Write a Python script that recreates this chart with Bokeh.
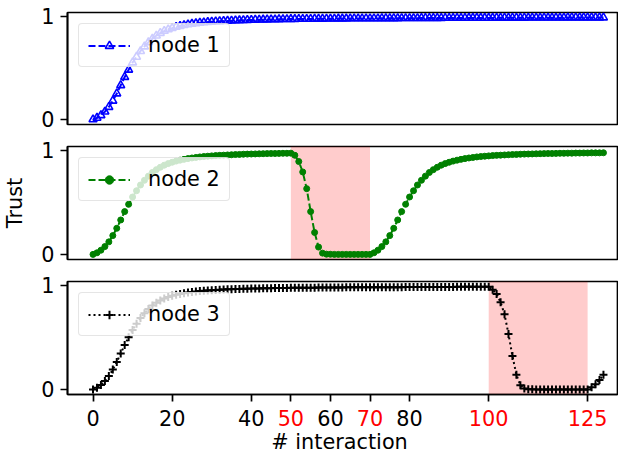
from bokeh.plotting import figure
from bokeh.layouts import column
from bokeh.models import Range1d, FixedTicker, BoxAnnotation, ColumnDataSource
from bokeh.core.properties import value
from bokeh.embed import file_html
from bokeh.resources import INLINE

# ---------------- data ----------------
interaction = list(range(130))

node1 = [0.000, 0.015, 0.040, 0.075, 0.120, 0.180, 0.250, 0.330, 0.410, 0.480,
         0.550, 0.605, 0.660, 0.705, 0.745, 0.780, 0.810, 0.835, 0.855, 0.870,
         0.883, 0.894, 0.903, 0.911, 0.918, 0.924, 0.929, 0.934, 0.938, 0.941,
         0.944, 0.947, 0.949, 0.951, 0.953, 0.955, 0.957, 0.958, 0.960, 0.961,
         0.962, 0.963, 0.964, 0.965, 0.966, 0.967, 0.967, 0.968, 0.969, 0.969,
         0.970, 0.970, 0.971, 0.971, 0.972, 0.972, 0.973, 0.973, 0.973, 0.974,
         0.974, 0.974, 0.975, 0.975, 0.975, 0.976, 0.976, 0.976, 0.976, 0.977,
         0.977, 0.977, 0.977, 0.978, 0.978, 0.978, 0.978, 0.978, 0.979, 0.979,
         0.979, 0.979, 0.979, 0.980, 0.980, 0.980, 0.980, 0.980, 0.980, 0.981,
         0.981, 0.981, 0.981, 0.981, 0.981, 0.982, 0.982, 0.982, 0.982, 0.982,
         0.982, 0.982, 0.983, 0.983, 0.983, 0.983, 0.983, 0.983, 0.983, 0.983,
         0.984, 0.984, 0.984, 0.984, 0.984, 0.984, 0.984, 0.984, 0.984, 0.984,
         0.985, 0.985, 0.985, 0.985, 0.985, 0.985, 0.985, 0.985, 0.985, 0.985]

node2 = [0.000, 0.015, 0.040, 0.075, 0.120, 0.180, 0.250, 0.330, 0.410, 0.480,
         0.550, 0.610, 0.665, 0.710, 0.750, 0.785, 0.812, 0.835, 0.855, 0.870,
         0.883, 0.894, 0.903, 0.911, 0.918, 0.924, 0.929, 0.934, 0.938, 0.941,
         0.944, 0.947, 0.949, 0.951, 0.953, 0.955, 0.957, 0.958, 0.960, 0.961,
         0.962, 0.963, 0.964, 0.965, 0.966, 0.967, 0.967, 0.968, 0.969, 0.969,
         0.970, 0.950, 0.890, 0.790, 0.630, 0.410, 0.210, 0.070, 0.012, 0.002,
         0.001, 0.000, 0.000, 0.000, 0.000, 0.000, 0.000, 0.000, 0.000, 0.000,
         0.000, 0.015, 0.040, 0.075, 0.120, 0.180, 0.250, 0.330, 0.410, 0.480,
         0.550, 0.610, 0.665, 0.710, 0.750, 0.785, 0.812, 0.835, 0.855, 0.870,
         0.883, 0.894, 0.903, 0.911, 0.918, 0.924, 0.929, 0.934, 0.938, 0.941,
         0.944, 0.947, 0.949, 0.951, 0.953, 0.955, 0.957, 0.958, 0.960, 0.961,
         0.962, 0.963, 0.964, 0.965, 0.966, 0.967, 0.967, 0.968, 0.969, 0.969,
         0.970, 0.970, 0.971, 0.971, 0.972, 0.972, 0.973, 0.973, 0.973, 0.974]

node3 = [0.000, 0.015, 0.042, 0.080, 0.128, 0.190, 0.262, 0.345, 0.425, 0.500,
         0.570, 0.630, 0.685, 0.730, 0.770, 0.803, 0.830, 0.852, 0.870, 0.885,
         0.897, 0.907, 0.915, 0.922, 0.928, 0.933, 0.938, 0.942, 0.945, 0.948,
         0.951, 0.953, 0.955, 0.957, 0.959, 0.960, 0.962, 0.963, 0.964, 0.965,
         0.966, 0.967, 0.968, 0.969, 0.969, 0.970, 0.971, 0.971, 0.972, 0.972,
         0.973, 0.973, 0.974, 0.974, 0.975, 0.975, 0.975, 0.976, 0.976, 0.976,
         0.977, 0.977, 0.977, 0.977, 0.978, 0.978, 0.978, 0.978, 0.979, 0.979,
         0.979, 0.979, 0.979, 0.980, 0.980, 0.980, 0.980, 0.980, 0.980, 0.981,
         0.981, 0.981, 0.981, 0.981, 0.981, 0.982, 0.982, 0.982, 0.982, 0.982,
         0.982, 0.982, 0.983, 0.983, 0.983, 0.983, 0.983, 0.983, 0.983, 0.983,
         0.983, 0.955, 0.915, 0.835, 0.720, 0.530, 0.320, 0.140, 0.040, 0.008,
         0.002, 0.001, 0.000, 0.000, 0.000, 0.000, 0.000, 0.000, 0.000, 0.000,
         0.000, 0.000, 0.000, 0.000, 0.000, 0.000, 0.020, 0.050, 0.090, 0.140]

node_labels = ["node 1", "node 2", "node 3"]
attack_windows = [None, (50, 70), (100, 125)]
x_ticks = [0, 20, 40, 50, 60, 70, 80, 100, 125]
red_ticks = [50, 70, 100, 125]
y_ticks = [0, 1]
x_label = "# interaction"
y_label = "Trust"

# ---------------- style ----------------
FONT = "DejaVu Sans"
FS = "20.8px"
x_range = Range1d(-6.45, 132.55)


def base_fig(height, top, bottom):
    p = figure(width=618, height=height, x_range=x_range,
               y_range=Range1d(-0.049, 1.034),
               output_backend="svg", toolbar_location=None,
               min_border_left=62, min_border_right=1,
               min_border_top=top, min_border_bottom=bottom)
    p.grid.visible = False
    p.outline_line_color = "black"
    p.outline_line_width = 1.7
    p.outline_line_alpha = 1.0
    p.background_fill_color = "white"
    p.border_fill_color = "white"
    ax = p.yaxis[0]
    ax.ticker = FixedTicker(ticks=y_ticks)
    ax.major_tick_in = 0
    ax.major_tick_out = 7
    ax.minor_tick_in = 0
    ax.minor_tick_out = 0
    ax.major_tick_line_width = 1.7
    ax.axis_line_width = 1.7
    ax.major_label_standoff = 6
    ax.major_label_text_font = FONT
    ax.major_label_text_font_size = FS
    ax.major_label_text_color = "black"
    return p


def style_legend(p):
    lg = p.legend[0]
    lg.location = "top_left"
    lg.margin = 11
    lg.padding = 9
    lg.spacing = 0
    lg.glyph_width = 42
    lg.glyph_height = 21
    lg.label_height = 21
    lg.label_standoff = 18
    lg.label_text_font = FONT
    lg.label_text_font_size = FS
    lg.label_text_color = "black"
    lg.border_line_color = "#cccccc"
    lg.border_line_width = 1.7
    lg.background_fill_color = "white"
    lg.background_fill_alpha = 0.8
    try:
        lg.border_radius = 4
    except Exception:
        pass


# ---------- node 1 ----------
p1 = base_fig(135, 12, 11)
p1.xaxis.visible = False
p1.line(interaction, node1, line_color="#0000ff", line_width=2,
        line_dash="7 3", legend_label=node_labels[0])
p1.scatter(interaction, node1, marker="triangle", size=8, line_color="#0000ff",
           line_width=1.6, fill_color=None, legend_label=node_labels[0])
style_legend(p1)

# ---------- node 2 ----------
p2 = base_fig(135, 11, 11)
p2.xaxis.visible = False
w = attack_windows[1]
p2.add_layout(BoxAnnotation(left=w[0], right=w[1], fill_color="#ff0000",
                            fill_alpha=0.2, line_color=None, level="underlay"))
p2.line(interaction, node2, line_color="#008000", line_width=2,
        line_dash="7 3", legend_label=node_labels[1])
p2.scatter(interaction, node2, marker="circle", size=6, line_color="#008000",
           fill_color="#008000", legend_label=node_labels[1])
style_legend(p2)
p2.yaxis[0].axis_label = y_label
p2.yaxis[0].axis_label_standoff = 11
p2.yaxis[0].axis_label_text_font = FONT
p2.yaxis[0].axis_label_text_font_size = FS
p2.yaxis[0].axis_label_text_font_style = "normal"
p2.yaxis[0].axis_label_text_color = "black"

# ---------- node 3 ----------
p3 = base_fig(132, 11, 8)
w = attack_windows[2]
p3.add_layout(BoxAnnotation(left=w[0], right=w[1], fill_color="#ff0000",
                            fill_alpha=0.2, line_color=None, level="underlay"))
p3.line(interaction, node3, line_color="black", line_width=2,
        line_dash="2 3", legend_label=node_labels[2])
p3.scatter(interaction, node3, marker="cross", size=8, line_color="black",
           line_width=2, legend_label=node_labels[2])
style_legend(p3)

xa = p3.xaxis[0]
xa.ticker = FixedTicker(ticks=x_ticks)
xa.major_label_overrides = {t: "" for t in x_ticks}
xa.major_label_text_font_size = "0px"
xa.major_label_standoff = 0
xa.major_tick_in = 0
xa.major_tick_out = 7
xa.minor_tick_in = 0
xa.minor_tick_out = 0
xa.major_tick_line_width = 1.7
xa.axis_line_width = 1.7

# ---------- tick labels and axis title strip ----------
p4 = figure(width=618, height=52, x_range=x_range, y_range=Range1d(0, 52),
            output_backend="svg", toolbar_location=None,
            x_axis_type=None, y_axis_type=None,
            min_border_left=62, min_border_right=1,
            min_border_top=0, min_border_bottom=0)
p4.grid.visible = False
p4.outline_line_color = None
p4.background_fill_color = "white"
p4.border_fill_color = "white"

tick_src = ColumnDataSource(dict(
    x=x_ticks,
    y=[45] * len(x_ticks),
    text=[str(t) for t in x_ticks],
    color=["#ff0000" if t in red_ticks else "black" for t in x_ticks],
))
p4.text(x="x", y="y", text="text", text_color="color", source=tick_src,
        text_align="center", text_baseline="top",
        text_font=value(FONT), text_font_size=value(FS))
p4.text(x=[62.3], y=[12.5], text=[x_label], text_color="black",
        text_align="center", text_baseline="middle",
        text_font=value(FONT), text_font_size=value(FS))

layout = column(p1, p2, p3, p4, spacing=0)
open("out.html", "w").write(file_html(layout, INLINE))
